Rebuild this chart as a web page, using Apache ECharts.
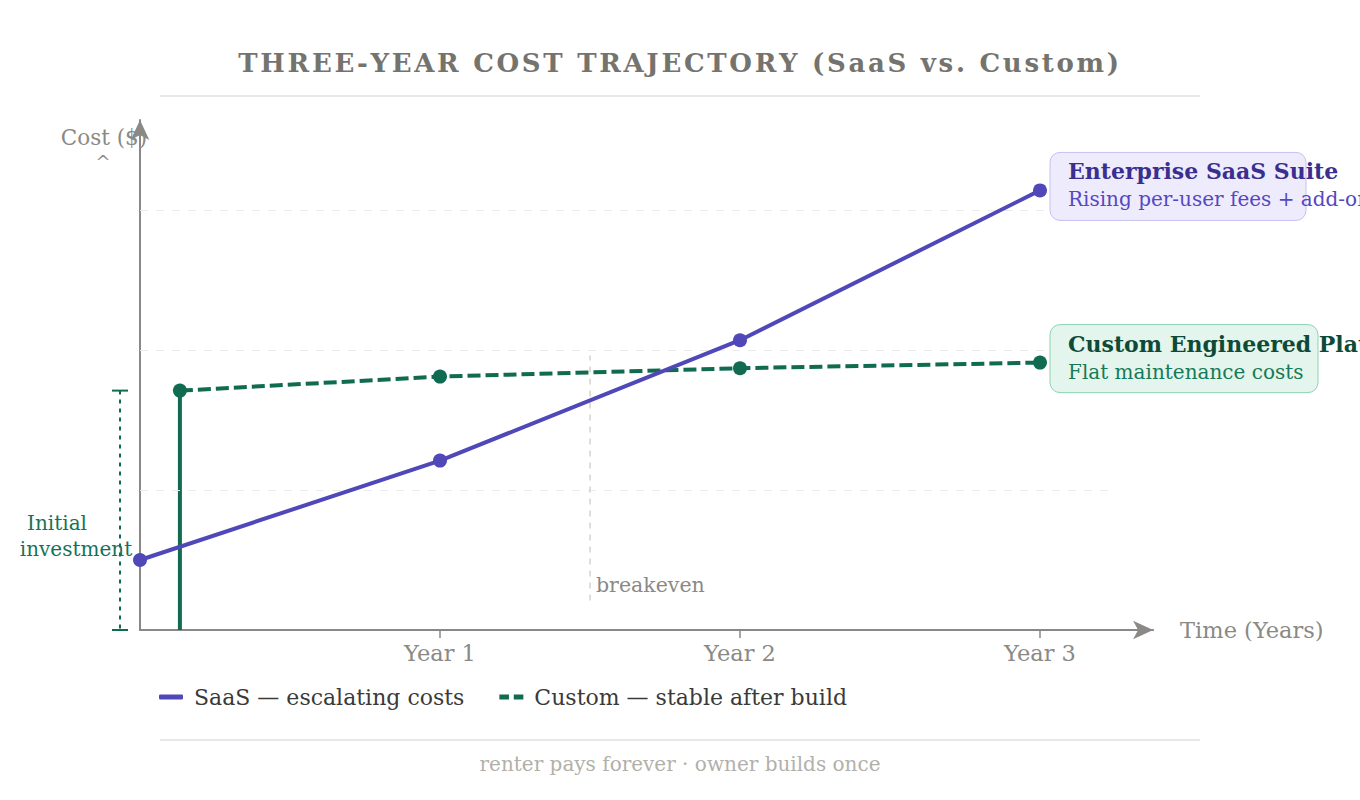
<!DOCTYPE html>
<html>
<head>
<meta charset="utf-8">
<script src="https://cdn.jsdelivr.net/npm/echarts@6/dist/echarts.min.js"></script>
<style>
html, body { margin: 0; padding: 0; background: #fff; }
#chart { width: 1360px; height: 800px; }
</style>
</head>
<body>
<div id="chart"></div>
<script>
var FONT = '"DejaVu Serif", serif';
var PURPLE = '#5047b8';
var GREEN = '#116b50';
var GREY = '#8a8985';

// data
var saasYears = [0, 1, 2, 3];
var saasCost = [0.5, 1.21, 2.07, 3.14];
var customYears = [0.133, 1, 2, 3];
var customCost = [1.71, 1.81, 1.87, 1.91];
var yearTicks = [1, 2, 3];
var yearLabels = ['Year 1', 'Year 2', 'Year 3'];
var gridLevels = [1, 2, 3];
var gridEnd = 3.233;
var breakevenYear = 1.5;
var breakevenSpan = [0.21, 1.96];
var xMax = 3.377;
var yMax = 3.643;

var titleText = 'THREE-YEAR COST TRAJECTORY (SaaS vs. Custom)';

function pairs(xs, ys) {
    return xs.map(function (x, i) { return [x, ys[i]]; });
}

// spaced-out title: one rich token per character
function spaced(str) {
    return str.split('').map(function (ch) { return '{c|' + ch + '}'; }).join('');
}

var chart = echarts.init(document.getElementById('chart'), null, { renderer: 'svg' });

var option = {
    animation: false,
    textStyle: { fontFamily: FONT },
    title: {
        text: spaced(titleText),
        left: 'center',
        top: 45,
        textStyle: {
            rich: {
                c: { fontFamily: FONT, fontSize: 26, fontWeight: 'bold', color: '#75736e', lineHeight: 26, padding: [0, 2.7, 0, 0] }
            }
        }
    },
    grid: { left: 140, right: 1360 - 140 - xMax * 300, top: 630 - yMax * 140, bottom: 170 },
    legend: {
        left: 154,
        top: 681,
        itemGap: 35,
        itemWidth: 24,
        itemHeight: 5,
        textStyle: { fontFamily: FONT, fontSize: 22, color: '#3a3a38', padding: [0, 0, 0, 6] },
        data: [
            { name: 'SaaS — escalating costs', icon: 'roundRect', itemStyle: { color: PURPLE } },
            { name: 'Custom — stable after build', icon: 'path://M0,0h8v4h-8z M12,0h8v4h-8z', itemStyle: { color: GREEN } }
        ]
    },
    xAxis: {
        type: 'value',
        min: 0,
        max: xMax,
        name: 'Time (Years)',
        nameLocation: 'end',
        nameGap: 27,
        nameTextStyle: { fontFamily: FONT, fontSize: 22.5, color: GREY, verticalAlign: 'middle' },
        axisLine: { show: true, symbol: ['none', 'arrow'], symbolSize: [14, 20], lineStyle: { color: GREY, width: 2 } },
        axisTick: { show: true, length: 8, customValues: yearTicks, lineStyle: { color: GREY, width: 1.5 } },
        axisLabel: {
            customValues: yearTicks,
            margin: 11,
            fontFamily: FONT, fontSize: 22.5, color: GREY,
            formatter: function (v) { return yearLabels[yearTicks.indexOf(v)] || ''; }
        },
        splitLine: { show: false }
    },
    yAxis: {
        type: 'value',
        min: 0,
        max: yMax,
        axisLine: { show: true, symbol: ['none', 'arrow'], symbolSize: [14, 20], lineStyle: { color: GREY, width: 2 } },
        axisTick: { show: false },
        axisLabel: { show: false },
        splitLine: { show: false }
    },
    series: [
        {
            name: 'guides',
            type: 'line',
            data: [],
            silent: true,
            markLine: {
                symbol: 'none',
                silent: true,
                label: { show: false },
                data: gridLevels.map(function (y) {
                    return [
                        { coord: [0, y], lineStyle: { color: '#ebebeb', width: 1, type: [8, 8] } },
                        { coord: [gridEnd, y] }
                    ];
                }).concat([[
                    { coord: [breakevenYear, breakevenSpan[0]], lineStyle: { color: '#d6d2cc', width: 1.5, type: [6, 6] } },
                    { coord: [breakevenYear, breakevenSpan[1]] }
                ]])
            }
        },
        {
            name: 'build',
            type: 'line',
            data: [[customYears[0], 0], [customYears[0], customCost[0]]],
            showSymbol: false,
            symbol: 'none',
            silent: true,
            z: 3,
            lineStyle: { color: GREEN, width: 4, cap: 'butt' }
        },
        {
            name: 'Custom — stable after build',
            type: 'line',
            data: pairs(customYears, customCost),
            symbol: 'circle',
            symbolSize: 14,
            z: 4,
            itemStyle: { color: GREEN },
            lineStyle: { color: GREEN, width: 4, type: [13, 5] }
        },
        {
            name: 'SaaS — escalating costs',
            type: 'line',
            data: pairs(saasYears, saasCost),
            symbol: 'circle',
            symbolSize: 14,
            z: 5,
            itemStyle: { color: PURPLE },
            lineStyle: { color: PURPLE, width: 4 }
        }
    ]
};
chart.setOption(option);

// annotations anchored on data points
var o = chart.convertToPixel({ gridIndex: 0 }, [0, 0]);
var cStart = chart.convertToPixel({ gridIndex: 0 }, [customYears[0], customCost[0]]);
var sEnd = chart.convertToPixel({ gridIndex: 0 }, [saasYears[3], saasCost[3]]);
var cEnd = chart.convertToPixel({ gridIndex: 0 }, [customYears[3], customCost[3]]);
var be = chart.convertToPixel({ gridIndex: 0 }, [breakevenYear, breakevenSpan[0]]);
var bx = o[0] - 20;

function callout(pt, w, fill, stroke, head, sub, headColor, subColor) {
    return [
        { type: 'rect', shape: { x: pt[0] + 10, y: pt[1] - 38, width: w, height: 68, r: 10 },
          style: { fill: fill, stroke: stroke, lineWidth: 1 }, z: 10 },
        { type: 'text', x: pt[0] + 28, y: pt[1] - 19, z: 11,
          style: { text: head, font: 'bold 22px ' + FONT, fill: headColor, textVerticalAlign: 'middle' } },
        { type: 'text', x: pt[0] + 28, y: pt[1] + 9, z: 11,
          style: { text: sub, font: '20px ' + FONT, fill: subColor, textVerticalAlign: 'middle' } }
    ];
}

chart.setOption({
    graphic: [
        { type: 'line', shape: { x1: 160, y1: 96, x2: 1200, y2: 96 }, style: { stroke: '#e2e1dd', lineWidth: 1.5 } },
        { type: 'line', shape: { x1: 160, y1: 740, x2: 1200, y2: 740 }, style: { stroke: '#e2e1dd', lineWidth: 1.5 } },
        { type: 'text', x: 104, y: 137, style: { text: 'Cost ($)', font: '21.5px ' + FONT, fill: GREY, textAlign: 'center', textVerticalAlign: 'middle' } },
        { type: 'text', x: 103, y: 162, style: { text: '^', font: '18px ' + FONT, fill: GREY, textAlign: 'center', textVerticalAlign: 'middle' } },
        { type: 'text', x: 680, y: 764, style: { text: 'renter pays forever · owner builds once', font: '20px ' + FONT, fill: '#b2b0aa', textAlign: 'center', textVerticalAlign: 'middle' } },
        { type: 'text', x: be[0] + 6, y: be[1] - 16, style: { text: 'breakeven', font: '20.5px ' + FONT, fill: GREY, textVerticalAlign: 'middle' } },
        { type: 'line', shape: { x1: bx, y1: cStart[1], x2: bx, y2: o[1] }, style: { stroke: GREEN, lineWidth: 2, lineDash: [4, 5] } },
        { type: 'line', shape: { x1: bx - 8, y1: cStart[1], x2: bx + 8, y2: cStart[1] }, style: { stroke: GREEN, lineWidth: 2 } },
        { type: 'line', shape: { x1: bx - 8, y1: o[1], x2: bx + 8, y2: o[1] }, style: { stroke: GREEN, lineWidth: 2 } },
        { type: 'text', x: 57, y: 523, style: { text: 'Initial', font: '20px ' + FONT, fill: '#137357', textAlign: 'center', textVerticalAlign: 'middle' } },
        { type: 'text', x: 76, y: 549, style: { text: 'investment', font: '20px ' + FONT, fill: '#137357', textAlign: 'center', textVerticalAlign: 'middle' } }
    ].concat(
        callout(sEnd, 256, '#eeecfc', '#c6c0f0', 'Enterprise SaaS Suite', 'Rising per-user fees + add-ons', '#3a2f8f', '#5647c2'),
        callout(cEnd, 268, '#e3f5ec', '#8ed3b4', 'Custom Engineered Platform', 'Flat maintenance costs', '#0d4a37', '#167a58')
    )
});
</script>
</body>
</html>
